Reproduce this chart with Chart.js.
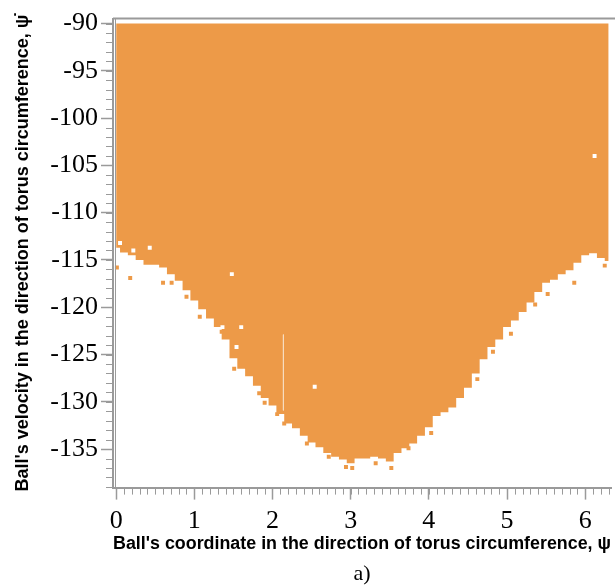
<!DOCTYPE html>
<html>
<head>
<meta charset="utf-8">
<script src="https://cdn.jsdelivr.net/npm/chart.js@4/dist/chart.umd.min.js"></script>
<style>
  body { margin: 0; background: #fff; }
  canvas { display: block; }
</style>
</head>
<body>
<canvas id="basin" width="615" height="587"></canvas>
<script>
// coordinate psi (columns) and lower edge of the orange region (velocity)
const psi = [0.0, 0.1, 0.2, 0.3, 0.4, 0.5, 0.6, 0.7, 0.8, 0.9,
             1.0, 1.1, 1.2, 1.3, 1.4, 1.5, 1.6, 1.7, 1.8, 1.9,
             2.0, 2.1, 2.2, 2.3, 2.4, 2.5, 2.6, 2.7, 2.8, 2.9,
             3.0, 3.1, 3.2, 3.3, 3.4, 3.5, 3.6, 3.7, 3.8, 3.9,
             4.0, 4.1, 4.2, 4.3, 4.4, 4.5, 4.6, 4.7, 4.8, 4.9,
             5.0, 5.1, 5.2, 5.3, 5.4, 5.5, 5.6, 5.7, 5.8, 5.9,
             6.0, 6.1, 6.2, 6.3]
const lowerEdge = [-113.7, -114.2, -114.5, -115.0, -115.5, -115.5, -115.8, -116.5, -117.2, -118.2,
                   -119.3, -120.2, -121.2, -122.1, -123.4, -125.4, -126.5, -127.3, -128.3, -129.6,
                   -130.4, -131.3, -132.3, -132.8, -133.6, -134.3, -134.8, -135.4, -135.8, -136.1,
                   -136.5, -136.0, -136.0, -135.8, -136.0, -136.3, -135.4, -134.9, -134.4, -133.6,
                   -132.7, -131.5, -131.1, -130.6, -129.6, -128.5, -127.0, -125.5, -124.2, -123.4,
                   -122.1, -121.4, -120.5, -119.5, -118.4, -117.4, -117.1, -116.5, -116.1, -115.3,
                   -114.5, -114.3, -114.8, -115.1]
const upperEdge = -90

// isolated cells outside / inside the region
const orangeCellX = [0.01, 0.18, 0.60, 0.71, 0.90, 1.07, 1.35, 1.51, 1.83, 1.90, 2.06, 2.15, 2.44, 2.72, 2.94, 3.02, 3.32, 3.52, 3.74, 4.03, 4.62, 4.82, 5.05, 5.36, 5.52, 5.86, 6.25]
const orangeCellY = [-115.8, -116.9, -117.4, -117.4, -118.9, -121.0, -122.6, -126.5, -129.1, -130.1, -131.3, -132.3, -134.4, -135.8, -136.9, -137.0, -136.5, -137.0, -134.9, -133.3, -127.6, -124.7, -122.8, -119.7, -118.6, -117.4, -115.6]
const whiteCellX = [6.12, 1.48, 2.54, 1.36, 1.60, 1.54, 0.05, 0.22, 0.43]
const whiteCellY = [-104.0, -116.5, -128.4, -122.1, -122.1, -124.2, -113.2, -114.0, -113.7]
const streakX = [2.14, 2.14]
const streakY = [-122.9, -130.9]

const xTicks = [0, 1, 2, 3, 4, 5, 6]
const yTicks = [-90, -95, -100, -105, -110, -115, -120, -125, -130, -135]

const orange = '#ED9A48'
const axisGrey = '#9a9a9a'

const pts = (xs, ys) => xs.map((v, i) => ({x: v, y: ys[i]}))

// short minor ticks, top frame line and the inner left line
const frameAndMinorTicks = {
    id: 'frameAndMinorTicks',
    afterDraw(chart) {
        const {ctx, chartArea: a, scales} = chart
        ctx.save()
        ctx.strokeStyle = axisGrey
        ctx.lineWidth = 1
        ctx.beginPath()
        for (let i = 0; i <= 63; i++) {
            const px = Math.round(scales.x.getPixelForValue(i / 10)) + 0.5
            ctx.moveTo(px, a.bottom)
            ctx.lineTo(px, a.bottom + 7)
        }
        for (let v = -90; v >= -139; v--) {
            const py = Math.round(scales.y.getPixelForValue(v)) + 0.5
            ctx.moveTo(a.left, py)
            ctx.lineTo(a.left - 7, py)
        }
        ctx.moveTo(a.left + 2.5, a.top)
        ctx.lineTo(a.left + 2.5, a.bottom)
        ctx.stroke()
        ctx.lineWidth = 2
        ctx.beginPath()
        ctx.moveTo(a.left, a.top)
        ctx.lineTo(chart.width, a.top)
        ctx.stroke()
        ctx.restore()
    },
}

new Chart('basin', {
    type: 'line',
    data: {
        datasets: [
            {
                data: pts(psi, lowerEdge),
                stepped: 'middle',
                fill: {value: upperEdge},
                backgroundColor: orange,
                borderWidth: 0,
                pointRadius: 0,
                order: 3,
            },
            {
                type: 'scatter',
                data: pts(orangeCellX, orangeCellY),
                pointStyle: 'rect',
                pointRadius: 2.8,
                backgroundColor: orange,
                borderWidth: 0,
                order: 2,
            },
            {
                type: 'scatter',
                data: pts(whiteCellX, whiteCellY),
                pointStyle: 'rect',
                pointRadius: 2.8,
                backgroundColor: '#ffffff',
                borderWidth: 0,
                order: 1,
            },
            {
                data: pts(streakX, streakY),
                borderColor: '#f7dcc0',
                borderWidth: 1,
                pointRadius: 0,
                fill: false,
                order: 1,
            },
        ],
    },
    options: {
        responsive: false,
        animation: false,
        layout: {padding: {top: 12, right: 0, left: 0, bottom: 0}},
        plugins: {
            legend: {display: false},
            tooltip: {enabled: false},
            title: {
                display: true,
                position: 'bottom',
                fullSize: false,
                text: 'a)',
                color: '#000',
                font: {family: 'Liberation Serif', size: 22, weight: 'normal'},
                padding: {top: 6, bottom: 0},
            },
        },
        scales: {
            x: {
                type: 'linear',
                min: -0.04,
                max: 6.33,
                afterBuildTicks: (s) => { s.ticks = xTicks.map((v) => ({value: v})) },
                afterFit: (s) => { s.height = 67 },
                border: {color: axisGrey, width: 2},
                grid: {drawOnChartArea: false, tickLength: 12, tickColor: axisGrey, tickWidth: 1.5},
                ticks: {
                    color: '#000',
                    padding: 6,
                    maxRotation: 0,
                    font: {family: 'Liberation Serif', size: 26},
                },
                title: {
                    display: true,
                    text: "Ball's coordinate in the direction of torus circumference, ψ",
                    color: '#000',
                    font: {family: 'Liberation Sans', size: 18, weight: 'bold'},
                    padding: {top: 0, bottom: 0},
                },
            },
            y: {
                min: -139.07,
                max: -89.48,
                afterBuildTicks: (s) => { s.ticks = yTicks.map((v) => ({value: v})) },
                afterFit: (s) => { s.width = 113 },
                border: {color: axisGrey, width: 2},
                grid: {drawOnChartArea: false, tickLength: 12, tickColor: axisGrey, tickWidth: 1.5},
                ticks: {
                    color: '#000',
                    padding: 3,
                    font: {family: 'Liberation Serif', size: 26},
                },
                title: {
                    display: true,
                    text: "Ball's velocity in the direction of torus circumference, ψ\u0307",
                    color: '#000',
                    font: {family: 'Liberation Sans', size: 18, weight: 'bold'},
                    padding: {top: 12, bottom: 0},
                },
            },
        },
    },
    plugins: [frameAndMinorTicks],
})
</script>
</body>
</html>
